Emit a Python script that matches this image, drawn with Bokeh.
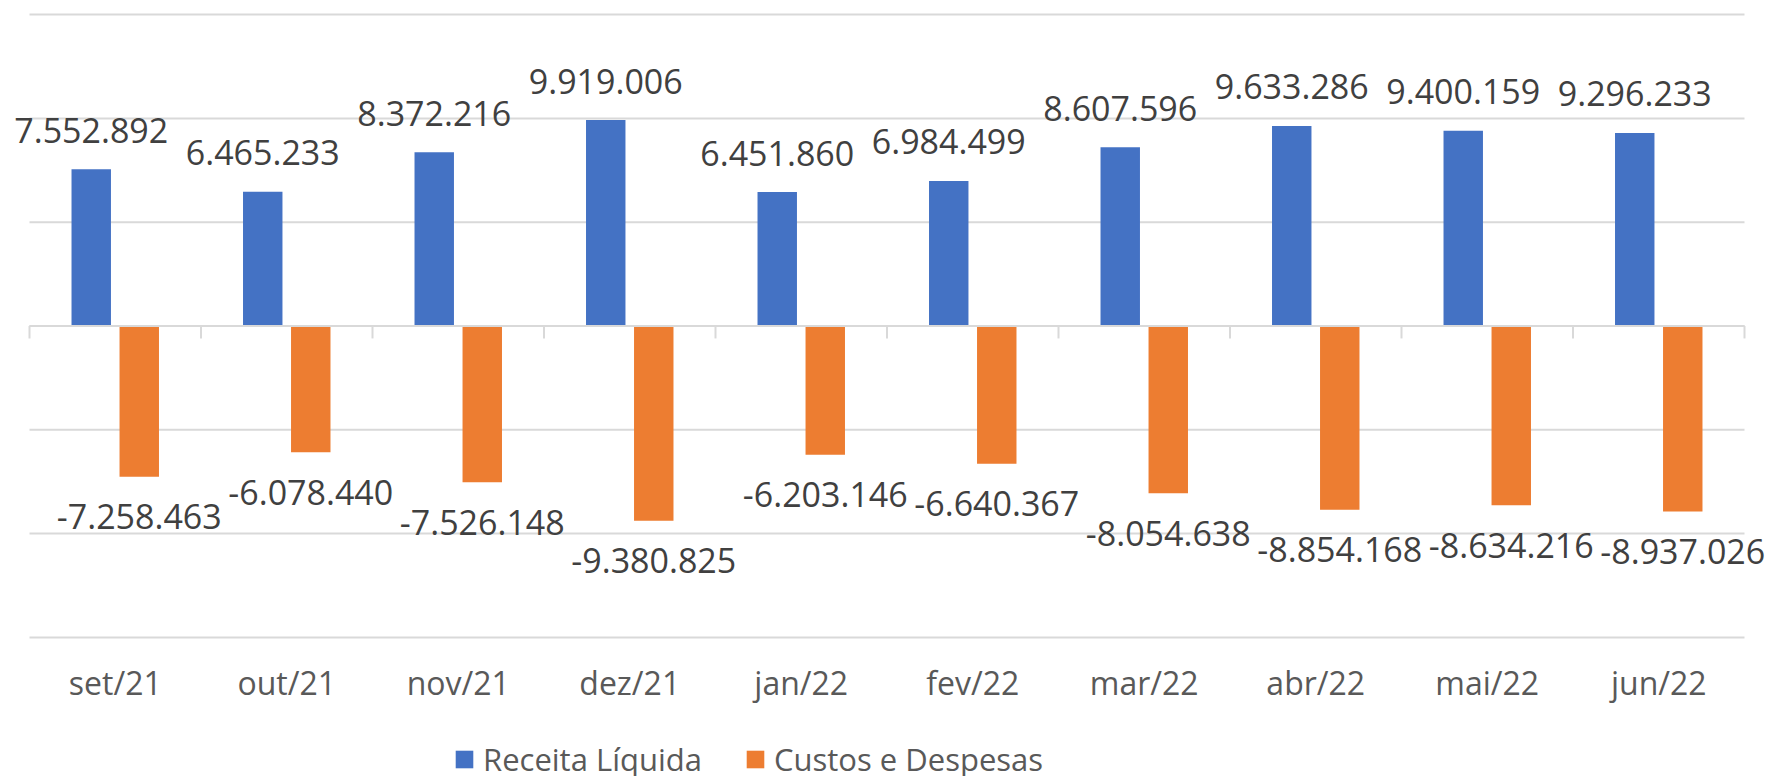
from bokeh.plotting import figure
from bokeh.layouts import column
from bokeh.models import (ColumnDataSource, Range1d, FixedTicker, Legend, LegendItem)
from bokeh.core.properties import value
from bokeh.embed import file_html
from bokeh.resources import INLINE
import numpy as np

months = ["set/21", "out/21", "nov/21", "dez/21", "jan/22", "fev/22",
          "mar/22", "abr/22", "mai/22", "jun/22"]
receita = [7552892, 6465233, 8372216, 9919006, 6451860, 6984499,
           8607596, 9633286, 9400159, 9296233]
custos = [-7258463, -6078440, -7526148, -9380825, -6203146, -6640367,
          -8054638, -8854168, -8634216, -8937026]
y_ticks = [-15000000, -10000000, -5000000, 0, 5000000, 10000000, 15000000]
series_names = ["Receita Líquida", "Custos e Despesas"]

def fmt(v):
    return f"{v:,}".replace(",", ".")

n = len(months)
idx = np.arange(n)
centers = idx + 0.5
DODGE = 0.14

src = ColumnDataSource(dict(
    xr=centers - DODGE,
    xc=centers + DODGE,
    receita=receita,
    custos=custos,
    rlab=[fmt(v) for v in receita],
    clab=[fmt(v) for v in custos],
))

FONT = "Open Sans"
BLUE = "#4472C4"
ORANGE = "#ED7D31"
GRID = "#D9D9D9"

W = 1765
H_MAIN, H_LEG = 715, 61
cat_px = 171.5          # pixel width of one category
left_px, right_px = 29, 21
x_range = Range1d(-left_px / cat_px, n + right_px / cat_px)
pad = 0.1e6
y_range = Range1d(y_ticks[0] - pad, y_ticks[-1] + pad)

p = figure(x_range=x_range, y_range=y_range,
           width=W, height=H_MAIN, output_backend="svg", toolbar_location=None,
           y_axis_location=None, min_border_left=0, min_border_right=0,
           min_border_top=12, min_border_bottom=H_MAIN - 639)
p.outline_line_color = None
p.background_fill_color = "white"
p.border_fill_color = "white"
p.xgrid.visible = False
p.ygrid.visible = False

# horizontal gridlines across the category span
p.segment(x0=[0] * len(y_ticks), x1=[n] * len(y_ticks), y0=y_ticks, y1=y_ticks,
          line_color=GRID, line_width=2)

w = 0.23
rb = p.vbar(x="xr", top="receita", bottom=0, width=w, source=src,
            fill_color=BLUE, line_color=None)
rc = p.vbar(x="xc", top="custos", bottom=0, width=w, source=src,
            fill_color=ORANGE, line_color=None)

# zero axis line with category boundary ticks
p.segment(x0=[0], x1=[n], y0=[0], y1=[0], line_color=GRID, line_width=2)
bounds = list(range(n + 1))
p.segment(x0=bounds, x1=bounds, y0=[0] * len(bounds), y1=[-600000] * len(bounds),
          line_color=GRID, line_width=2)

p.text(x="xr", y="receita", text="rlab", source=src,
       text_align="center", text_baseline="middle", y_offset=-39,
       text_font=value(FONT), text_font_size=value("34px"), text_color="#404040")
p.text(x="xc", y="custos", text="clab", source=src,
       text_align="center", text_baseline="middle", y_offset=40,
       text_font=value(FONT), text_font_size=value("34px"), text_color="#404040")

ax = p.xaxis[0]
ax.ticker = FixedTicker(ticks=list(centers))
ax.major_label_overrides = {float(c): m for c, m in zip(centers, months)}
ax.axis_line_color = None
ax.major_tick_line_color = None
ax.minor_tick_line_color = None
ax.major_tick_out = 0
ax.major_tick_in = 0
ax.minor_tick_out = 0
ax.major_label_standoff = 21
ax.major_label_text_font = FONT
ax.major_label_text_font_size = "32px"
ax.major_label_text_color = "#595959"

# legend strip below the chart
lf = figure(x_range=Range1d(0, 1), y_range=Range1d(0, 1), width=W, height=H_LEG,
            output_backend="svg", toolbar_location=None,
            x_axis_location=None, y_axis_location=None,
            min_border=0, min_border_left=0, min_border_right=0,
            min_border_top=0, min_border_bottom=0)
lf.outline_line_color = None
lf.xgrid.visible = False
lf.ygrid.visible = False
lf.background_fill_color = "white"
lf.border_fill_color = "white"
legend_src = ColumnDataSource(dict(x=[np.nan], top=[np.nan]))
lb = lf.vbar(x="x", top="top", width=0.1, source=legend_src, fill_color=BLUE, line_color=None)
lc = lf.vbar(x="x", top="top", width=0.1, source=legend_src, fill_color=ORANGE, line_color=None)

legend = Legend(items=[LegendItem(label=series_names[0], renderers=[lb], index=0),
                       LegendItem(label=series_names[1], renderers=[lc], index=0)],
                orientation="horizontal", location=(453, -4),
                glyph_width=22, glyph_height=22, label_standoff=8, spacing=42,
                padding=0, margin=0, border_line_color=None,
                background_fill_alpha=0,
                label_text_font=FONT, label_text_font_size="31px",
                label_text_color="#595959")
lf.add_layout(legend, "center")

layout = column(p, lf, spacing=0)
open("out.html", "w").write(file_html(layout, INLINE))
